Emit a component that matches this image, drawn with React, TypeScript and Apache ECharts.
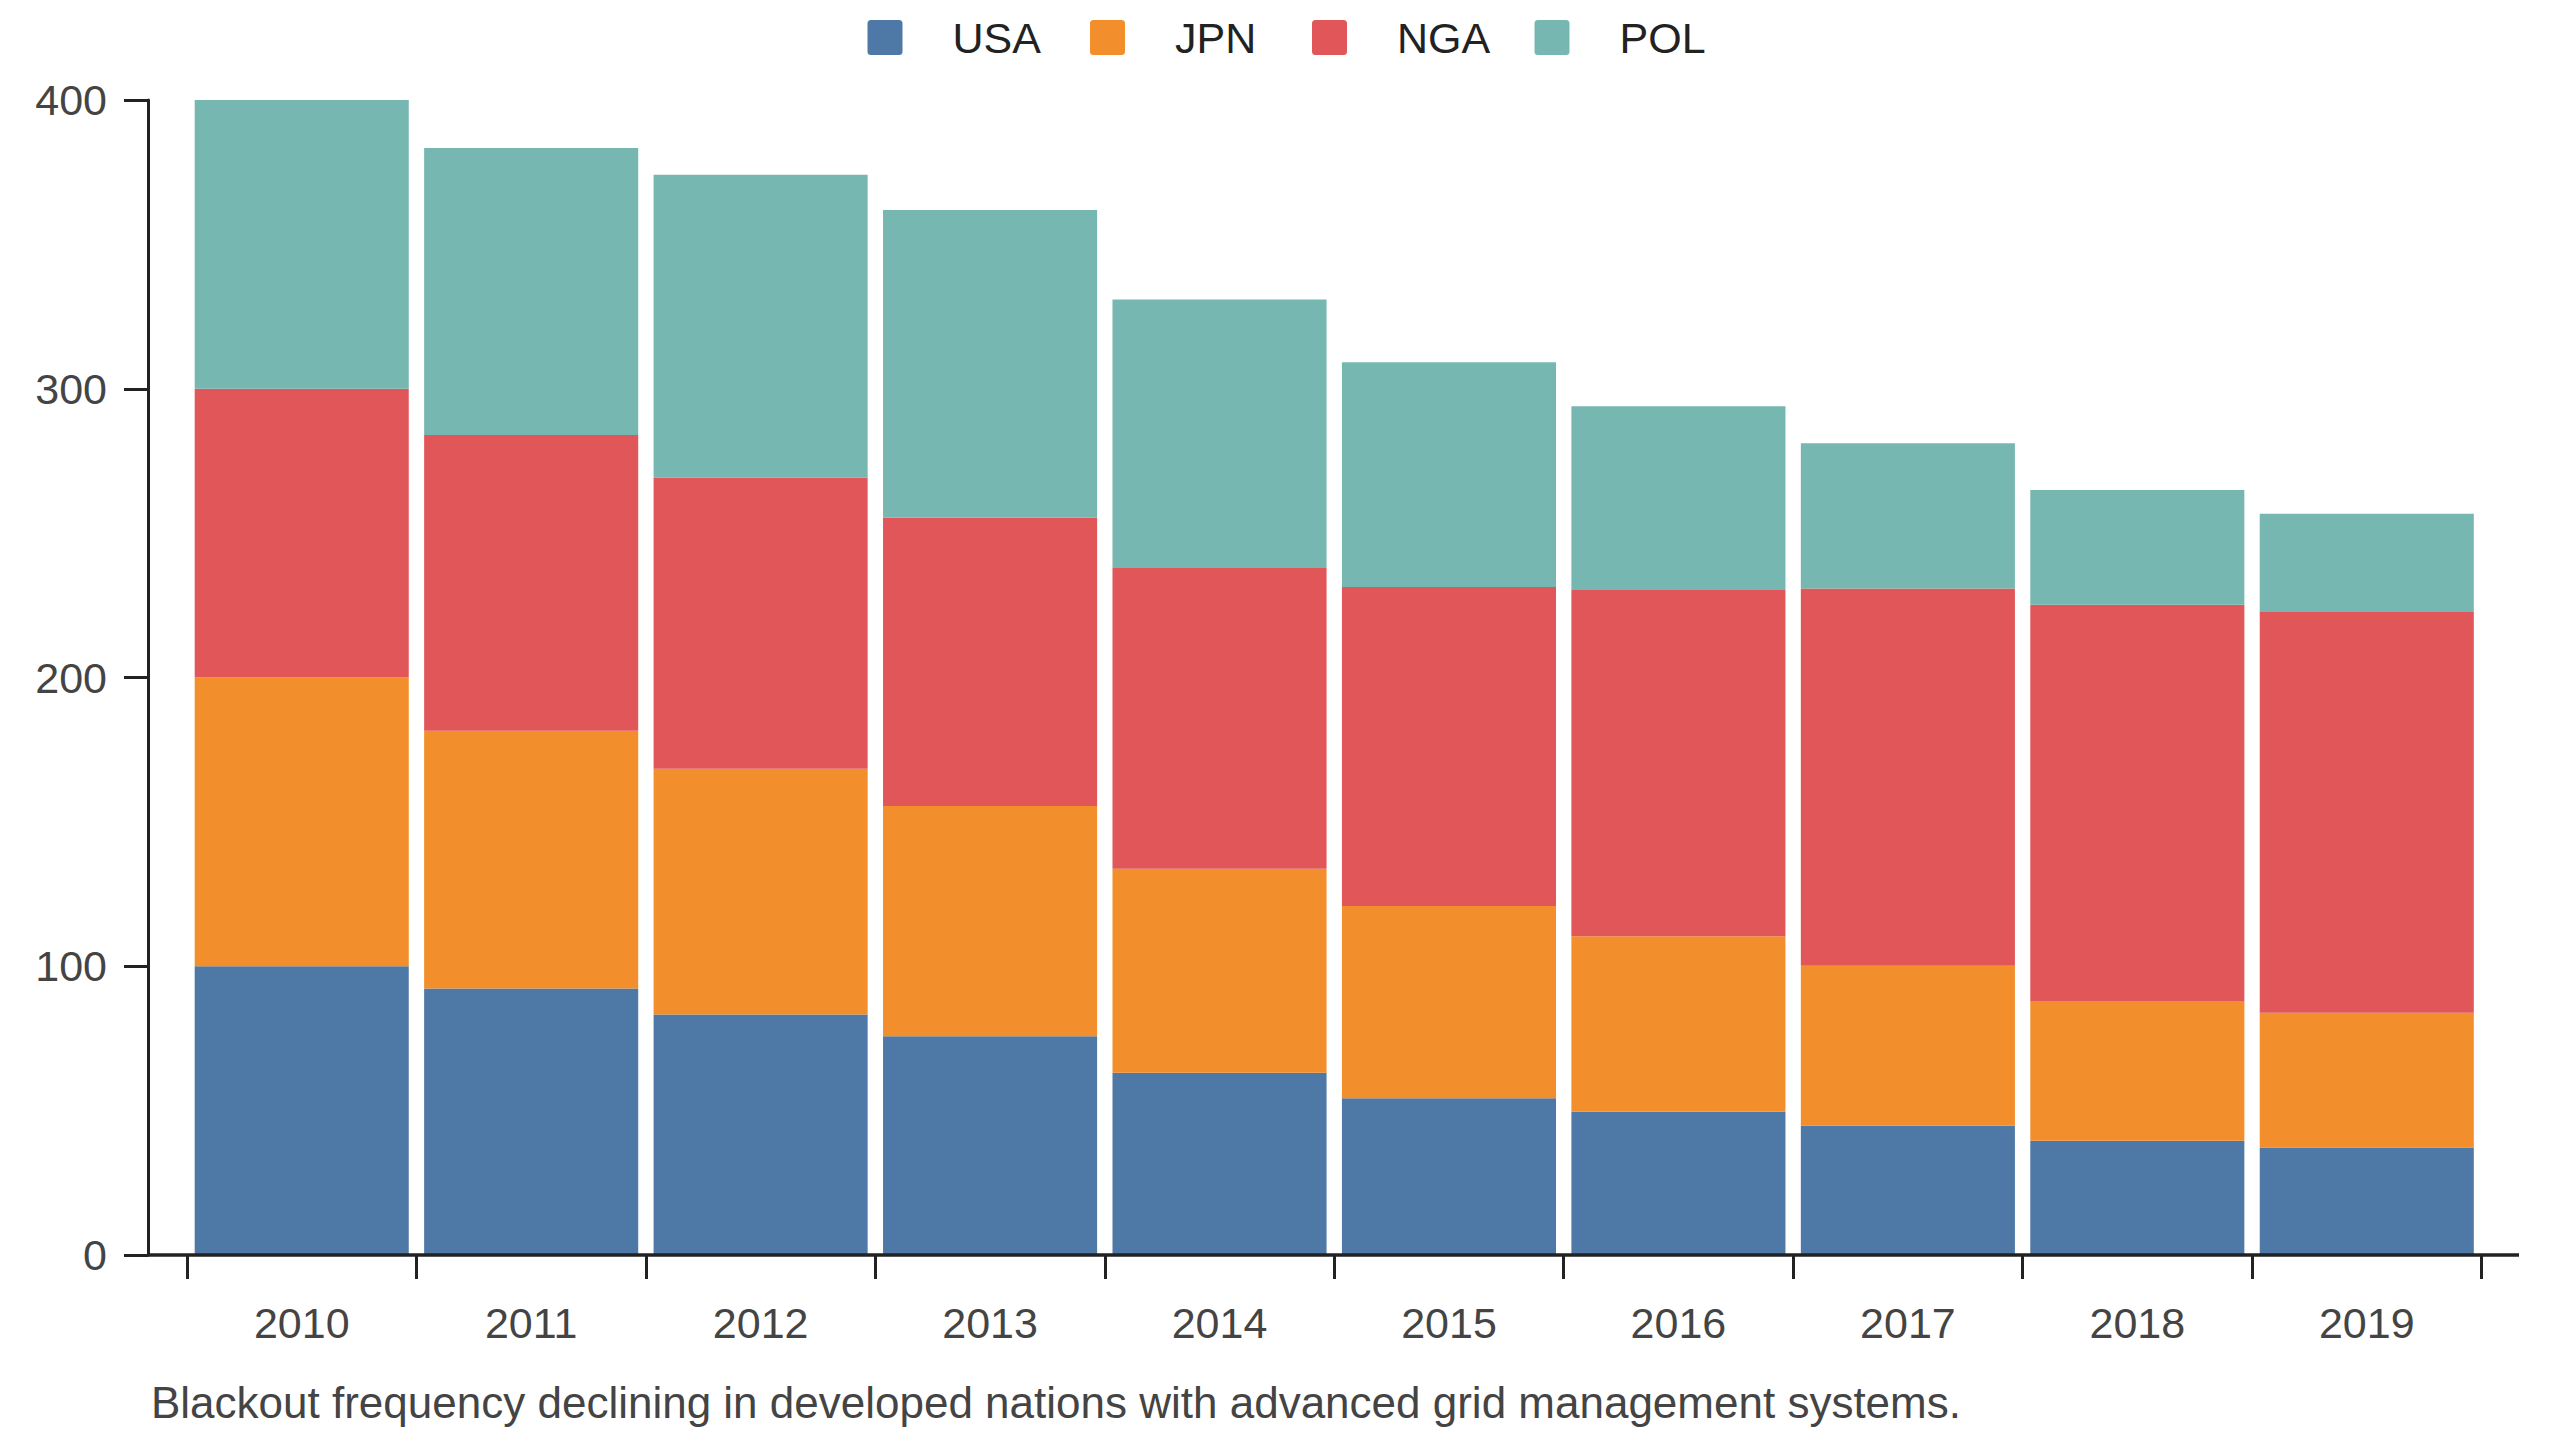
import React, { useEffect, useRef } from "react";
import * as echarts from "echarts";

const years = ["2010", "2011", "2012", "2013", "2014", "2015", "2016", "2017", "2018", "2019"];
const usa = [100, 92.3, 83.3, 75.8, 63.1, 54.3, 49.6, 44.8, 39.6, 37.2];
const jpn = [100, 89.3, 85.1, 79.7, 70.7, 66.6, 60.8, 55.4, 48.4, 46.7];
const nga = [100, 102.4, 100.9, 99.8, 104.1, 110.4, 119.9, 130.6, 137.2, 138.8];
const pol = [100, 99.4, 104.8, 106.6, 93.0, 77.9, 63.6, 50.3, 39.7, 34.0];
const seriesNames = ["USA", "JPN", "NGA", "POL"];
const seriesColors = ["#4e79a7", "#f28e2b", "#e15759", "#76b7b2"];
const yTicks = [0, 100, 200, 300, 400];
const caption = "Blackout frequency declining in developed nations with advanced grid management systems.";

const FONT = "'Liberation Sans', Arial, Helvetica, sans-serif";
const ICON = "path://M1,0H9A1,1 0 0 1 10,1V9A1,1 0 0 1 9,10H1A1,1 0 0 1 0,9V1A1,1 0 0 1 1,0Z";

export default function App() {
  const ref = useRef<HTMLDivElement>(null);
  useEffect(() => {
    if (!ref.current) return;
    const chart = echarts.init(ref.current, undefined, { renderer: "svg" });
    const values = [usa, jpn, nga, pol];
    const legendLefts = [867.5, 1090, 1312, 1534.5];
    const option: any = {
      animation: false,
      backgroundColor: "#ffffff",
      color: seriesColors,
      grid: { left: 187, right: 78.5, top: 100, bottom: 185, containLabel: false },
      legend: seriesNames.map((n, i) => ({
        data: [n],
        left: legendLefts[i],
        top: 16,
        padding: 0,
        icon: ICON,
        itemWidth: 35,
        itemHeight: 35,
        selectedMode: false,
        textStyle: {
          fontFamily: FONT,
          fontSize: 43,
          color: "#222222",
          padding: [0, 0, 0, 45],
        },
      })),
      xAxis: {
        type: "category",
        data: years,
        boundaryGap: true,
        axisLine: { show: false },
        axisTick: { show: true, length: 24, lineStyle: { color: "#222222", width: 3 } },
        axisLabel: { fontFamily: FONT, fontSize: 43, color: "#444444", margin: 46 },
        splitLine: { show: false },
      },
      yAxis: {
        type: "value",
        min: yTicks[0],
        max: yTicks[yTicks.length - 1],
        interval: 100,
        offset: 39,
        axisLine: { show: true, lineStyle: { color: "#222222", width: 3 } },
        axisTick: { show: true, length: 24, lineStyle: { color: "#222222", width: 3 } },
        axisLabel: { fontFamily: FONT, fontSize: 43, color: "#444444", margin: 41 },
        splitLine: { show: false },
      },
      series: seriesNames.map((n, i) => ({
        name: n,
        type: "bar",
        stack: "total",
        data: values[i],
        barCategoryGap: "6.7%",
        itemStyle: { color: seriesColors[i] },
      })),
      graphic: [
        {
          type: "line",
          shape: { x1: 147, y1: 1255, x2: 2519, y2: 1255 },
          style: { stroke: "#222222", lineWidth: 3.5 },
          z: 10,
        },
        {
          type: "text",
          left: 151,
          top: 1380,
          style: { text: caption, fontFamily: FONT, fontSize: 44, fill: "#444444" },
        },
      ],
    };
    chart.setOption(option);
    return () => chart.dispose();
  }, []);
  return (
    <div
      ref={ref}
      style={{ position: "fixed", left: 0, top: 0, width: 2560, height: 1440, background: "#fff" }}
    />
  );
}
